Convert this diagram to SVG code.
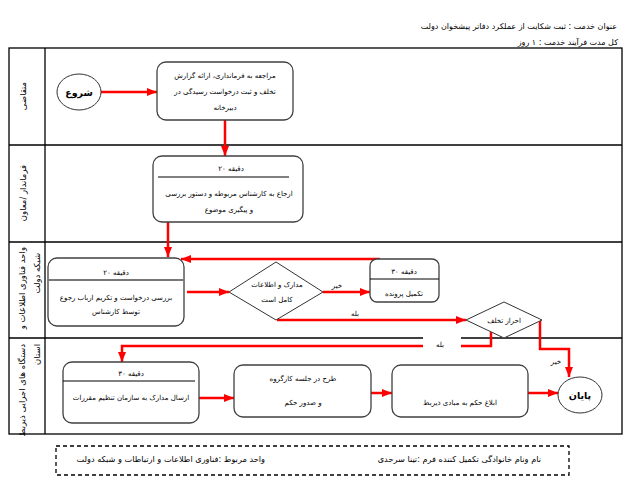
<svg xmlns="http://www.w3.org/2000/svg" width="636" height="488" viewBox="0 0 636 488">
<defs>
<marker id="ah" markerUnits="userSpaceOnUse" markerWidth="10" markerHeight="8" refX="10" refY="4" orient="auto">
<path d="M0,0 L10,4 L0,8 z" fill="#ff0000"/>
</marker>
<style>
text{font-family:"DejaVu Sans","Noto Sans",sans-serif;fill:#000;}
.t{font-size:7px;text-anchor:middle;}
.h{font-size:8px;text-anchor:end;}
.f{font-size:8.2px;text-anchor:end;}
.lane{font-size:8.5px;}
.big{font-size:9.5px;font-weight:bold;text-anchor:middle;}
.box{fill:#fff;stroke:#404040;stroke-width:1.3;}
.shape{fill:#fff;stroke:#333;stroke-width:1;}
.frame{fill:none;stroke:#000;stroke-width:1.3;}
.conn{fill:none;stroke:#ff0000;stroke-width:2.5;}
</style>
</defs>
<rect width="636" height="488" fill="#fff"/>

<g id="header">
<text class="h" x="617" y="28.5">عنوان خدمت : ثبت شکایت از عملکرد دفاتر پیشخوان دولت</text>
<text class="h" x="618" y="45">کل مدت فرآیند خدمت : ۱ روز</text>
</g>

<g id="frame">
<rect class="frame" x="9" y="48" width="613" height="386"/>
<line class="frame" x1="45" y1="48" x2="45" y2="434"/>
<line class="frame" x1="9" y1="145" x2="622" y2="145"/>
<line class="frame" x1="9" y1="242" x2="622" y2="242"/>
<line class="frame" x1="9" y1="338" x2="622" y2="338"/>
</g>

<g id="lanes">
<text class="lane" text-anchor="middle" transform="translate(26,96) rotate(-90)">متقاضی</text>
<text class="lane" text-anchor="middle" transform="translate(26,193) rotate(-90)">فرماندار /معاون</text>
<text class="lane" text-anchor="end" transform="translate(25,247) rotate(-90)">واحد فناوری اطلاعات و</text>
<text class="lane" text-anchor="end" transform="translate(40,253) rotate(-90)">شبکه دولت</text>
<text class="lane" text-anchor="end" transform="translate(25,344) rotate(-90)">دستگاه های اجرایی ذیربط</text>
<text class="lane" text-anchor="end" transform="translate(40,344) rotate(-90)">استان</text>
</g>

<g id="connectors">
<path class="conn" d="M101,92 H157" marker-end="url(#ah)"/>
<path class="conn" d="M225,120 V156" marker-end="url(#ah)"/>
<path class="conn" d="M168,222 V257" marker-end="url(#ah)"/>
<path class="conn" d="M380,259 H181" marker-end="url(#ah)"/>
<path class="conn" d="M187,292 H229" marker-end="url(#ah)"/>
<path class="conn" d="M323,292 H370" marker-end="url(#ah)"/>
<path class="conn" d="M277,320 H466" marker-end="url(#ah)"/>
<path class="conn" d="M491,332 V346 H122 V362" marker-end="url(#ah)"/>
<path class="conn" d="M540,320 V349 H569 V377" marker-end="url(#ah)"/>
<path class="conn" d="M199,398 H234" marker-end="url(#ah)"/>
<path class="conn" d="M371,393 H392" marker-end="url(#ah)"/>
<path class="conn" d="M528,393 H558" marker-end="url(#ah)"/>
<text class="t" x="337" y="288">خیر</text>
<text class="t" x="355" y="316">بله</text>
<rect x="423" y="335" width="38" height="15" fill="#fff"/>
<text class="t" x="440" y="347">بله</text>
<text class="t" x="556" y="364">خیر</text>
</g>

<g id="start">
<ellipse class="shape" cx="79" cy="92" rx="22" ry="18"/>
<text class="big" x="79" y="95.5">شروع</text>
</g>

<g id="n1">
<rect class="box" x="157" y="62" width="136" height="58" rx="9"/>
<text class="t" x="225" y="77.5">مراجعه به فرمانداری، ارائه گزارش</text>
<text class="t" x="225" y="94">تخلف و ثبت درخواست رسیدگی در</text>
<text class="t" x="225" y="109.5">دبیرخانه</text>
</g>

<g id="n2">
<rect class="box" x="153" y="156" width="150" height="66" rx="9"/>
<line x1="158" y1="177" x2="289" y2="177" stroke="#000" stroke-width="1"/>
<text class="t" x="231" y="170.5">۲۰ دقیقه</text>
<text class="t" x="229" y="195.5">ارجاع به کارشناس مربوطه و دستور بررسی</text>
<text class="t" x="229" y="211.5">و پیگیری موضوع</text>
</g>

<g id="n3">
<rect class="box" x="48" y="258" width="136" height="68" rx="9"/>
<line x1="48" y1="280" x2="184" y2="280" stroke="#777" stroke-width="2"/>
<text class="t" x="116" y="274.5">۲۰ دقیقه</text>
<text class="t" x="116" y="299.5">بررسی درخواست و تکریم ارباب رجوع</text>
<text class="t" x="116" y="314">توسط کارشناس</text>
</g>

<g id="d1">
<polygon class="shape" points="229,292 276,262 323,292 276,320"/>
<text class="t" x="277" y="286.5">مدارک و اطلاعات</text>
<text class="t" x="277" y="301.5">کامل است</text>
</g>

<g id="n4">
<rect class="box" x="370" y="259" width="69" height="43" rx="7"/>
<line x1="370" y1="279" x2="439" y2="279" stroke="#000" stroke-width="1"/>
<text class="t" x="404" y="273.5">۳۰ دقیقه</text>
<text class="t" x="404" y="295.5">تکمیل پرونده</text>
</g>

<g id="d2">
<polygon class="shape" points="466,320 504,302 542,320 504,338"/>
<text class="t" x="504" y="322.5">احراز تخلف</text>
</g>

<g id="n5">
<rect class="box" x="63" y="362" width="136" height="61" rx="9"/>
<line x1="63" y1="381" x2="195" y2="381" stroke="#000" stroke-width="1"/>
<text class="t" x="131" y="375.5">۳۰ دقیقه</text>
<text class="t" x="131" y="399.5">ارسال مدارک به سازمان تنظیم مقررات</text>
</g>

<g id="n6">
<rect class="box" x="234" y="365" width="137" height="52" rx="9"/>
<text class="t" x="303" y="380.5">طرح در جلسه کارگروه</text>
<text class="t" x="303" y="405">و صدور حکم</text>
</g>

<g id="n7">
<rect class="box" x="392" y="365" width="136" height="52" rx="9"/>
<text class="t" x="460" y="404.5">ابلاغ حکم به مبادی ذیربط</text>
</g>

<g id="end">
<ellipse class="shape" cx="580" cy="395" rx="22" ry="18"/>
<text class="big" x="580" y="398.5">پایان</text>
</g>

<g id="footer">
<rect x="56" y="446" width="513" height="29" fill="none" stroke="#000" stroke-width="1.3" stroke-dasharray="4,3"/>
<text class="f" x="541" y="462">نام ونام خانوادگی تکمیل کننده فرم :تینا سرحدی</text>
<text class="f" x="265" y="462">واحد مربوط :فناوری اطلاعات و ارتباطات و شبکه دولت</text>
</g>
</svg>
